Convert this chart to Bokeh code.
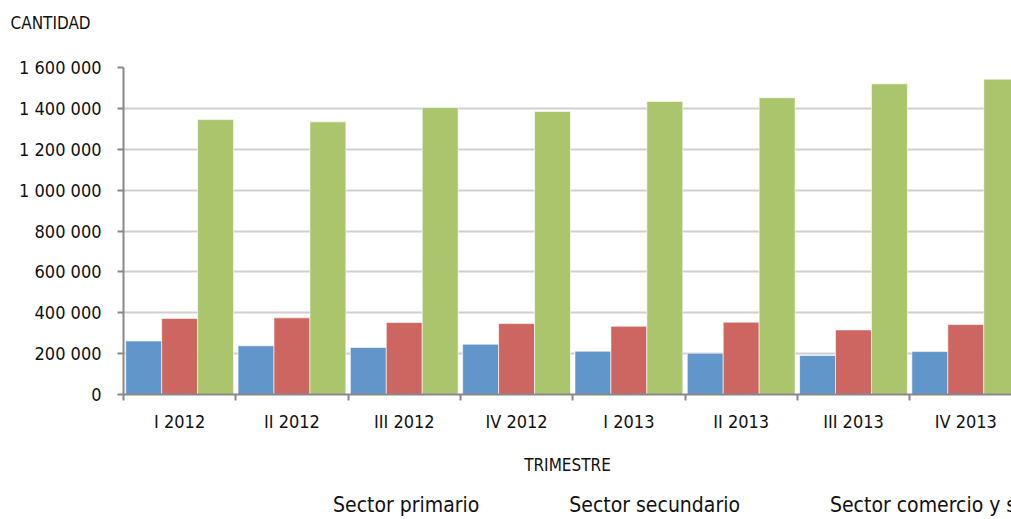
from bokeh.plotting import figure
from bokeh.layouts import column
from bokeh.models import Range1d, FixedTicker, Legend, LegendItem, ColumnDataSource
from bokeh.embed import file_html
from bokeh.resources import INLINE

quarters = ["I 2012", "II 2012", "III 2012", "IV 2012", "I 2013", "II 2013", "III 2013", "IV 2013"]
primario = [262000, 238000, 230000, 246000, 212000, 202000, 191000, 210000]
secundario = [372000, 375000, 352000, 347000, 334000, 354000, 316000, 342000]
comercio = [1345000, 1334000, 1404000, 1385000, 1434000, 1452000, 1520000, 1543000]
series_names = ["Sector primario", "Sector secundario", "Sector comercio y servicios"]
colors = ["#6096C9", "#CD6660", "#ABC56D"]
y_ticks = [0, 200000, 400000, 600000, 800000, 1000000, 1200000, 1400000, 1600000]
y_labels = ["0", "200 000", "400 000", "600 000", "800 000", "1 000 000", "1 200 000", "1 400 000", "1 600 000"]

FONT = "'DejaVu Sans Condensed', sans-serif"
TXT = "#111111"

fig = figure(frame_width=888, frame_height=327, output_backend="svg", toolbar_location=None,
             x_range=Range1d(0, 7.907), y_range=Range1d(0, 1600000),
             min_border_left=123, min_border_top=67, min_border_right=0, min_border_bottom=96)
fig.outline_line_color = None
fig.background_fill_color = "white"

centers = [i + 0.5 for i in range(len(quarters))]
bw = 0.32
offsets = [-bw, 0.0, bw]
for vals, off, col in zip([primario, secundario, comercio], offsets, colors):
    src = ColumnDataSource(dict(x=[c + off for c in centers], top=vals))
    fig.vbar(x="x", top="top", width=bw, bottom=0, source=src, fill_color=col,
             line_color="white", line_alpha=0.6, line_width=1)

# title (a blank second line reserves room so the text sits near the top edge)
fig.title.text = "CANTIDAD\n "
fig.title.align = "left"
fig.title.vertical_align = "top"
fig.title.offset = -113
fig.title.standoff = 18
fig.title.text_font = FONT
fig.title.text_font_size = "17px"
fig.title.text_line_height = 1.2
fig.title.text_font_style = "normal"
fig.title.text_color = TXT

# x axis
fig.xaxis.ticker = FixedTicker(ticks=centers, minor_ticks=list(range(len(quarters) + 1)))
fig.xaxis.major_label_overrides = {c: q for c, q in zip(centers, quarters)}
fig.xaxis.major_tick_line_color = None
fig.xaxis.major_tick_out = 6
fig.xaxis.major_tick_in = 0
fig.xaxis.minor_tick_line_color = "#888888"
fig.xaxis.minor_tick_line_width = 2
fig.xaxis.minor_tick_in = 0
fig.xaxis.minor_tick_out = 6
fig.xaxis.axis_line_color = "#888888"
fig.xaxis.axis_line_width = 2
fig.xaxis.major_label_text_font = FONT
fig.xaxis.major_label_text_font_size = "18px"
fig.xaxis.major_label_text_color = TXT
fig.xaxis.major_label_standoff = 10
fig.xaxis.axis_label = "TRIMESTRE"
fig.xaxis.axis_label_text_font = FONT
fig.xaxis.axis_label_text_font_style = "normal"
fig.xaxis.axis_label_text_font_size = "17px"
fig.xaxis.axis_label_text_color = TXT
fig.xaxis.axis_label_standoff = 20

# y axis
fig.yaxis.ticker = FixedTicker(ticks=y_ticks)
fig.yaxis.major_label_overrides = {t: l for t, l in zip(y_ticks, y_labels)}
fig.yaxis.major_tick_line_color = "#888888"
fig.yaxis.major_tick_line_width = 2
fig.yaxis.major_tick_in = 0
fig.yaxis.major_tick_out = 6
fig.yaxis.minor_tick_line_color = None
fig.yaxis.axis_line_color = "#888888"
fig.yaxis.axis_line_width = 2
fig.yaxis.major_label_text_font = FONT
fig.yaxis.major_label_text_font_size = "18px"
fig.yaxis.major_label_text_color = TXT
fig.yaxis.major_label_standoff = 16

fig.xgrid.grid_line_color = None
fig.ygrid.grid_line_color = "#D0D0D0"
fig.ygrid.grid_line_width = 2

# legend strip: a small figure below the chart holding only the legend
leg_fig = figure(width=1011, height=29, output_backend="svg", toolbar_location=None,
                 x_axis_type=None, y_axis_type=None, x_range=Range1d(0, 1), y_range=Range1d(0, 1),
                 min_border=0)
leg_fig.outline_line_color = None
leg_fig.grid.visible = False
leg_renderers = []
for col in colors:
    leg_renderers.append(leg_fig.vbar(x=[], top=[], width=0.1, fill_color=col, line_color=None))

legend = Legend(items=[LegendItem(label=n, renderers=[r]) for n, r in zip(series_names, leg_renderers)],
                orientation="horizontal", location=(193, 2), spacing=73,
                glyph_width=12, glyph_height=12, label_standoff=5,
                label_text_font=FONT, label_text_font_size="21px", label_text_color=TXT,
                border_line_color=None, background_fill_alpha=0, padding=0, margin=0)
leg_fig.add_layout(legend, "center")

p = column(fig, leg_fig, spacing=0)

open("out.html", "w").write(file_html(p, INLINE))
